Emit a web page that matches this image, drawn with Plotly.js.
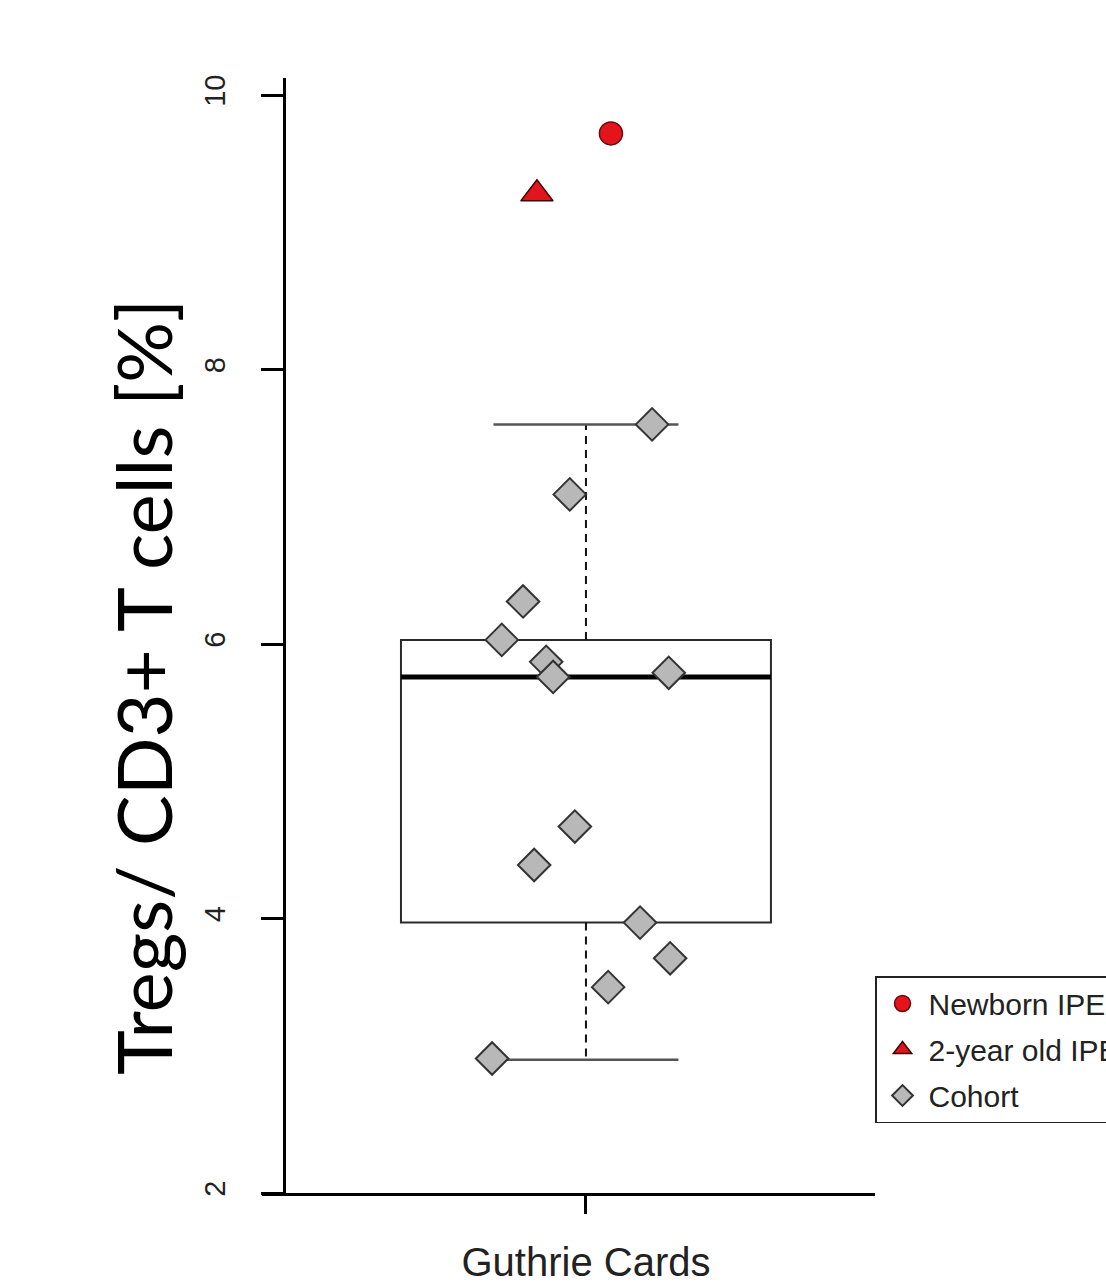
<!DOCTYPE html>
<html>
<head>
<meta charset="utf-8">
<script src="https://cdn.plot.ly/plotly-3.0.1.min.js"></script>
<style>html,body{margin:0;padding:0;background:#fff;}#chart{width:1106px;height:1283px;}</style>
</head>
<body>
<div id="chart"></div>
<script>
// ---- data ----
const category = "Guthrie Cards";
const yTicks = [2, 4, 6, 8, 10];

// Box summary (Tregs / CD3+ T cells, %)
const boxQ1 = 3.97;
const boxMedian = 5.76;
const boxQ3 = 6.03;
const whiskerLow = 2.97;
const whiskerHigh = 7.60;

// Cohort points (jittered x around category position 1)
const cohortX = [1.143, 0.965, 0.864, 0.818, 0.914, 0.929, 1.179, 0.976, 0.888, 1.117, 1.182, 1.048, 0.797];
const cohortY = [7.60, 7.09, 6.31, 6.03, 5.87, 5.76, 5.79, 4.67, 4.39, 3.97, 3.71, 3.50, 2.98];

// IPEX patients
const newbornX = [1.054];
const newbornY = [9.72];
const twoYearX = [0.894];
const twoYearY = [9.28];

const seriesNames = ["Newborn IPEX", "2-year old IPEX", "Cohort"];

// ---- chart ----
const boxWidth = 0.8;
const capHalf = 0.2;

const traces = [
  {
    type: "box", x: [1], q1: [boxQ1], median: [boxMedian], q3: [boxQ3],
    lowerfence: [boxQ1], upperfence: [boxQ3],
    width: boxWidth, boxpoints: false, fillcolor: "rgba(255,255,255,0)",
    line: {color: "#2a2a2a", width: 2}, whiskerwidth: 0,
    showlegend: false, hoverinfo: "skip"
  },
  { // upper whisker (dashed)
    type: "scatter", mode: "lines", x: [1, 1], y: [boxQ3, whiskerHigh],
    line: {color: "#111", width: 2, dash: "8px,6px"}, showlegend: false, hoverinfo: "skip"
  },
  { // lower whisker (dashed)
    type: "scatter", mode: "lines", x: [1, 1], y: [boxQ1, whiskerLow],
    line: {color: "#111", width: 2, dash: "8px,6px"}, showlegend: false, hoverinfo: "skip"
  },
  { // caps
    type: "scatter", mode: "lines",
    x: [1 - capHalf, 1 + capHalf, null, 1 - capHalf, 1 + capHalf],
    y: [whiskerHigh, whiskerHigh, null, whiskerLow, whiskerLow],
    line: {color: "#555", width: 2.5}, showlegend: false, hoverinfo: "skip"
  },
  { // median
    type: "scatter", mode: "lines",
    x: [1 - boxWidth / 2, 1 + boxWidth / 2], y: [boxMedian, boxMedian],
    line: {color: "#000", width: 5}, showlegend: false, hoverinfo: "skip"
  },
  {
    type: "scatter", mode: "markers", name: seriesNames[0], legendgroup: "a",
    x: newbornX, y: newbornY,
    marker: {symbol: "circle", size: 23, color: "#e3141c", line: {color: "#6a0a0a", width: 1.5}}
  },
  {
    type: "scatter", mode: "markers", name: seriesNames[1], legendgroup: "b",
    x: twoYearX, y: twoYearY,
    marker: {symbol: "triangle-up", size: 28, color: "#e3141c", line: {color: "#3a0505", width: 1.5}}
  },
  {
    type: "scatter", mode: "markers", name: seriesNames[2], legendgroup: "c",
    x: cohortX, y: cohortY,
    marker: {symbol: "diamond", size: 25, color: "#b8b8b8", line: {color: "#333", width: 2}}
  }
];

const layout = {
  width: 1106, height: 1283,
  margin: {l: 262, r: 231, t: 78, b: 90, autoexpand: false},
  paper_bgcolor: "#fff", plot_bgcolor: "#fff",
  font: {family: "Liberation Sans, Arial, sans-serif", color: "#222"},
  showlegend: true,
  legend: {
    x: 1.0, y: (1193 - 976) / 1115, xanchor: "left", yanchor: "top",
    bgcolor: "#fff", bordercolor: "#222", borderwidth: 1.5,
    font: {size: 30, color: "#222"}, tracegroupgap: 4, itemwidth: 42
  },
  xaxis: {
    range: [0.2995, 1.625], showgrid: false, zeroline: false,
    showline: true, linecolor: "#000", linewidth: 3,
    tickmode: "array", tickvals: [1], ticktext: [category],
    ticks: "outside", ticklen: 18, tickwidth: 3, tickcolor: "#000",
    tickfont: {size: 40, color: "#222"}, ticklabelstandoff: 14
  },
  yaxis: {
    range: [2, 10.124], showgrid: false, zeroline: false,
    anchor: "free", position: (284 - 262) / 613,
    showline: true, linecolor: "#000", linewidth: 3,
    tickmode: "array", tickvals: yTicks, ticktext: yTicks.map(String),
    ticks: "outside", ticklen: 22, tickwidth: 3, tickcolor: "#000",
    tickangle: -90, tickfont: {size: 29, color: "#222"}, ticklabelstandoff: 24
  },
  annotations: [{
    text: "Tregs/ CD3+ T cells [%]", textangle: -90,
    xref: "paper", yref: "paper", x: (143 - 262) / 613, y: (1193 - 687) / 1115,
    xanchor: "center", yanchor: "middle", showarrow: false,
    font: {family: "Lato, sans-serif", size: 76, color: "#000"}
  }]
};

Plotly.newPlot("chart", traces, layout, {displayModeBar: false, staticPlot: true});
</script>
</body>
</html>
